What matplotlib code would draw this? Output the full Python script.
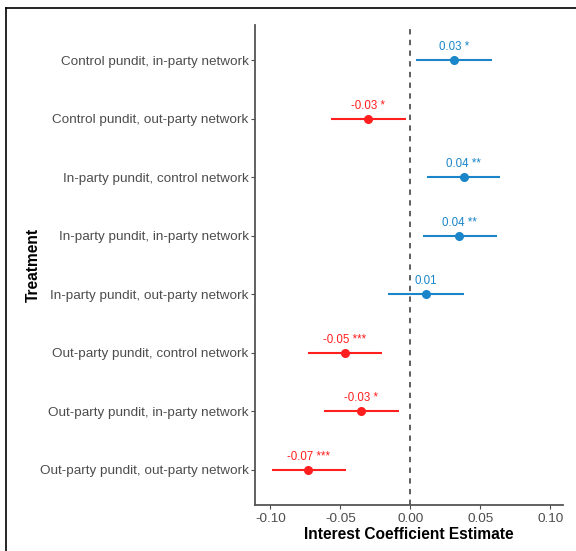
import matplotlib
matplotlib.use("Agg")
import matplotlib.pyplot as plt
from matplotlib.lines import Line2D

plt.rcParams['font.family'] = ['Liberation Sans', 'DejaVu Sans']

treatments = [
    "Control pundit, in-party network",
    "Control pundit, out-party network",
    "In-party pundit, control network",
    "In-party pundit, in-party network",
    "In-party pundit, out-party network",
    "Out-party pundit, control network",
    "Out-party pundit, in-party network",
    "Out-party pundit, out-party network",
]
estimates = [0.031, -0.030, 0.038, 0.035, 0.011, -0.047, -0.035, -0.073]
ci_low = [0.004, -0.057, 0.012, 0.009, -0.016, -0.073, -0.062, -0.099]
ci_high = [0.058, -0.003, 0.064, 0.062, 0.038, -0.020, -0.008, -0.046]
labels = ["0.03 *", "-0.03 *", "0.04 **", "0.04 **", "0.01",
          "-0.05 ***", "-0.03 *", "-0.07 ***"]
xticks = [-0.10, -0.05, 0.00, 0.05, 0.10]

blue = "#1a85c9"
red = "#ff1f1f"

fig = plt.figure(figsize=(5.76, 5.51), dpi=100)
ax = fig.add_axes([255/576, 1-505/551, (563-255)/576, (505-25)/551])

ypos = list(range(1, len(treatments) + 1))
for y, est, lo, hi, lab in zip(ypos, estimates, ci_low, ci_high, labels):
    c = blue if est > 0 else red
    ax.plot([lo, hi], [y, y], color=c, lw=1.5, solid_capstyle='butt', zorder=2)
    ax.plot(est, y, 'o', color=c, ms=5.5, zorder=3)
    ax.annotate(lab, (est, y), xytext=(0, 5), textcoords='offset points',
                ha='center', va='bottom', color=c, fontsize=8.3)

ax.axvline(0, color='#333333', lw=1.1, ls=(0, (3.5, 3.5)), zorder=1)

ax.set_xlim(-0.111, 0.109)
ax.set_ylim(8.6, 0.4)
ax.set_yticks(ypos)
ax.set_yticklabels(treatments)
ax.set_xticks(xticks)
ax.set_xticklabels([f"{t:.2f}" for t in xticks])
ax.tick_params(axis='both', colors='#4d4d4d', labelcolor='#4d4d4d',
               labelsize=9.7, length=3, width=0.8)
ax.tick_params(axis='y', pad=1.5)
ax.tick_params(axis='x', pad=2.5)
for s in ['top', 'right']:
    ax.spines[s].set_visible(False)
for s in ['left', 'bottom']:
    ax.spines[s].set_color('#555555')
    ax.spines[s].set_linewidth(1.3)

ax.set_xlabel("Interest Coefficient Estimate", fontsize=11.2, fontweight='bold',
              color='black', labelpad=2)
ax.set_ylabel("Treatment", fontsize=11.2, fontweight='bold', color='black')
ax.yaxis.set_label_coords(-0.695, 0.5)

# outer frame (top and left edges)
fig.add_artist(Line2D([6/576, 6/576], [0, 1-8/551], color='black', lw=1.2,
                      transform=fig.transFigure))
fig.add_artist(Line2D([6/576, 1], [1-8/551, 1-8/551], color='black', lw=1.2,
                      transform=fig.transFigure))

fig.savefig("out.png", dpi=100)
